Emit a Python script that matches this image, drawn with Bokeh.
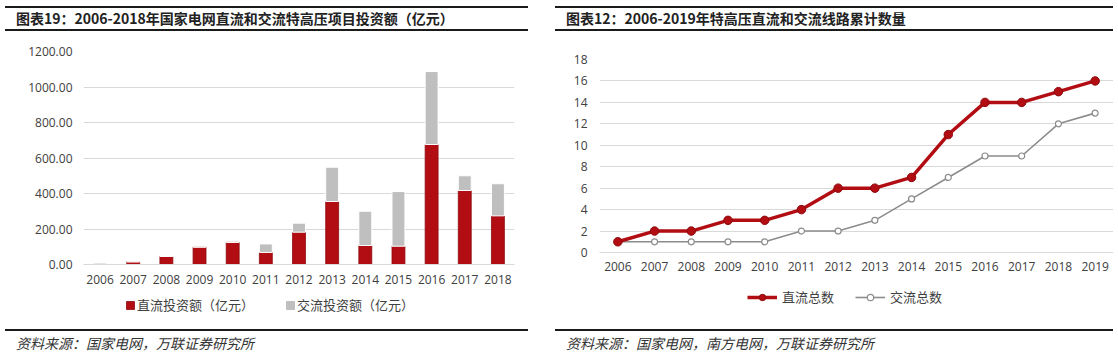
from bokeh.plotting import figure
from bokeh.models import (FactorRange, Range1d, Legend, LegendItem, FixedTicker,
                          PrintfTickFormatter, Div, Spacer, ColumnDataSource)
from bokeh.layouts import row, column
from bokeh.embed import file_html
from bokeh.resources import INLINE

# ---------------- data ----------------
years_left = ["2006", "2007", "2008", "2009", "2010", "2011", "2012",
              "2013", "2014", "2015", "2016", "2017", "2018"]
dc_invest = [0, 15, 45, 98, 125, 68, 182, 355, 107, 103, 676, 417, 274]
ac_invest = [8, 0, 0, 0, 0, 48, 51, 193, 193, 308, 411, 83, 181]
left_yticks = [0, 200, 400, 600, 800, 1000, 1200]

years_right = ["2006", "2007", "2008", "2009", "2010", "2011", "2012",
               "2013", "2014", "2015", "2016", "2017", "2018", "2019"]
dc_total = [1, 2, 2, 3, 3, 4, 6, 6, 7, 11, 14, 14, 15, 16]
ac_total = [1, 1, 1, 1, 1, 2, 2, 3, 5, 7, 9, 9, 12, 13]
right_yticks = [0, 2, 4, 6, 8, 10, 12, 14, 16, 18]

title_left = "图表19：2006-2018年国家电网直流和交流特高压项目投资额（亿元）"
title_right = "图表12：2006-2019年特高压直流和交流线路累计数量"
source_left = "资料来源：国家电网，万联证券研究所"
source_right = "资料来源：国家电网，南方电网，万联证券研究所"
legend_left = ["直流投资额（亿元）", "交流投资额（亿元）"]
legend_right = ["直流总数", "交流总数"]

CJK = "Noto Sans CJK SC"
NUM = "Open Sans"
RED = "#B20D12"
RED_EDGE = "#8E0A0E"
GRAY_BAR = "#BFBFBF"
GRAY_LINE = "#8C8C8C"
GRID = "#D9D9D9"
TXT = "#404040"


def title_div(text, width):
    html = ("<div style=\"box-sizing:border-box;width:%dpx;height:25px;"
            "border-top:2px solid #1a1a1a;border-bottom:2px solid #1a1a1a;"
            "padding-left:11px;line-height:21px;font-family:'%s';font-weight:bold;"
            "font-size:14px;color:#222;white-space:nowrap;\">%s</div>" % (width, CJK, text))
    return Div(text=html, width=width, height=25, margin=(0, 0, 0, 0))


def source_div(text, width):
    html = ("<div style=\"box-sizing:border-box;width:%dpx;height:24px;"
            "border-top:2px solid #1a1a1a;padding-left:11px;padding-top:3px;"
            "line-height:18px;font-family:'%s';font-style:italic;"
            "font-size:14px;color:#333;white-space:nowrap;\">%s</div>" % (width, CJK, text))
    return Div(text=html, width=width, height=24, margin=(0, 0, 0, 0))


def style_axes(p):
    for ax in (p.xaxis[0], p.yaxis[0]):
        ax.major_tick_out = 0
        ax.major_tick_in = 0
        ax.minor_tick_out = 0
        ax.minor_tick_in = 0
        ax.major_label_text_font = NUM
        ax.major_label_text_font_size = "12px"
        ax.major_label_text_color = TXT
    p.yaxis.axis_line_color = None
    p.xaxis.axis_line_color = GRID
    p.xgrid.grid_line_color = None
    p.ygrid.grid_line_color = GRID
    p.outline_line_color = None
    p.xaxis.major_label_standoff = 10
    p.yaxis.major_label_standoff = 11


def legend_fig(width, height, mbl, mbr):
    f = figure(width=width, height=height, x_range=Range1d(0, 1), y_range=Range1d(0, 1),
               x_axis_type=None, y_axis_type=None, output_backend="svg",
               toolbar_location=None, title=None, min_border_left=mbl,
               min_border_right=mbr, min_border_top=0, min_border_bottom=0,
               margin=(0, 0, 0, 0))
    f.grid.visible = False
    f.outline_line_color = None
    return f


def legend_style(**kw):
    base = dict(orientation="horizontal", padding=0, margin=0, label_height=16,
                label_text_font=CJK, label_text_font_size="13px", label_text_color=TXT,
                border_line_color=None, background_fill_alpha=0)
    base.update(kw)
    return base


# off-screen key samples so the legend keys have something to draw
KEY_X = [-10, -9]
KEY_Y = [-10, -10]

# ---------------- left: stacked bars ----------------
LW = 523
src = ColumnDataSource(dict(year=years_left, dc=dc_invest, ac=ac_invest))
p1 = figure(width=LW, height=261, x_range=FactorRange(factors=years_left, range_padding=0),
            y_range=Range1d(0, 1200), output_backend="svg", toolbar_location=None,
            title=None, min_border_left=78, min_border_right=14,
            min_border_top=20, min_border_bottom=28, margin=(0, 0, 0, 0))
p1.vbar_stack(["dc", "ac"], x="year", width=0.39, source=src,
              fill_color=[RED, GRAY_BAR], line_color=[RED_EDGE, "white"],
              line_width=[0.8, 1])
style_axes(p1)
p1.yaxis.ticker = FixedTicker(ticks=left_yticks)
p1.yaxis.formatter = PrintfTickFormatter(format="%.2f")

lf1 = legend_fig(LW, 37, 78, 14)
k1 = lf1.vbar(x=KEY_X, bottom=KEY_Y, top=[-9, -9], width=0.1, fill_color=RED,
              line_color=RED_EDGE, line_width=0.8)
k2 = lf1.vbar(x=KEY_X, bottom=KEY_Y, top=[-9, -9], width=0.1, fill_color=GRAY_BAR,
              line_color=GRAY_BAR)
lf1.add_layout(Legend(items=[LegendItem(label=legend_left[0], renderers=[k1]),
                             LegendItem(label=legend_left[1], renderers=[k2])],
                     **legend_style(location=(42, 15), spacing=31, glyph_width=10,
                                    glyph_height=10, label_standoff=2)))

# ---------------- right: lines ----------------
RW = 558
p2 = figure(width=RW, height=254, x_range=FactorRange(factors=years_right, range_padding=0),
            y_range=Range1d(0, 18), output_backend="svg", toolbar_location=None,
            title=None, min_border_left=44, min_border_right=0,
            min_border_top=28, min_border_bottom=33, margin=(0, 0, 0, 0))
p2.line(years_right, ac_total, line_color=GRAY_LINE, line_width=1.6)
p2.scatter(years_right, ac_total, size=6, marker="circle",
           fill_color="white", line_color=GRAY_LINE, line_width=1.2)
p2.line(years_right, dc_total, line_color=RED, line_width=3.5)
p2.scatter(years_right, dc_total, size=8.5, marker="circle",
           fill_color=RED, line_color=RED_EDGE, line_width=1)
style_axes(p2)
p2.xaxis.major_label_standoff = 9
p2.yaxis.major_label_standoff = 12
p2.yaxis.ticker = FixedTicker(ticks=right_yticks)

lf2 = legend_fig(RW, 44, 44, 0)
a1 = lf2.line(x=KEY_X, y=KEY_Y, line_color=RED, line_width=3.5)
a2 = lf2.scatter(x=KEY_X, y=KEY_Y, size=8.5, marker="circle", fill_color=RED,
                 line_color=RED_EDGE, line_width=1)
b1 = lf2.line(x=KEY_X, y=KEY_Y, line_color=GRAY_LINE, line_width=1.6)
b2 = lf2.scatter(x=KEY_X, y=KEY_Y, size=6, marker="circle", fill_color="white",
                 line_color=GRAY_LINE, line_width=1.2)
lf2.add_layout(Legend(items=[LegendItem(label=legend_right[0], renderers=[a1, a2]),
                             LegendItem(label=legend_right[1], renderers=[b1, b2])],
                      **legend_style(location=(148, 23), spacing=21, glyph_width=30,
                                     glyph_height=16, label_standoff=5)))

left = column(Spacer(height=6, margin=(0, 0, 0, 0)), title_div(title_left, LW), p1, lf1,
              source_div(source_left, LW), spacing=0, margin=(0, 0, 0, 0))
right = column(Spacer(height=6, margin=(0, 0, 0, 0)), title_div(title_right, RW), p2, lf2,
               source_div(source_right, RW), spacing=0, margin=(0, 0, 0, 0))
layout = row(Spacer(width=5, margin=(0, 0, 0, 0)), left,
             Spacer(width=27, margin=(0, 0, 0, 0)), right, spacing=0,
             margin=(0, 0, 0, 0))

open("out.html", "w").write(file_html(layout, INLINE, title="charts"))
